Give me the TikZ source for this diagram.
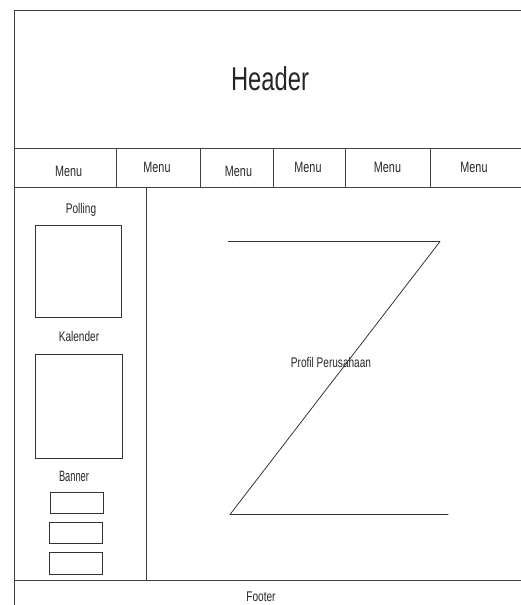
\documentclass[tikz,border=0pt]{standalone}
\usepackage{fontspec}
\setmainfont{Liberation Sans}[FakeStretch=0.72]
\newfontfamily\narrowfont{Liberation Sans}[FakeStretch=0.62]
\begin{document}
\begin{tikzpicture}[x=1pt,y=-1pt,
  frame/.style={draw=black!75, line width=0.9pt},
  lbl/.style={inner sep=0pt, anchor=base, text=black!85, font=\fontsize{14}{14}\selectfont},
  menulbl/.style={lbl, font=\fontsize{15}{15}\selectfont},
  box/.style={draw=black!80, line width=0.9pt, inner sep=0pt},
]
\useasboundingbox (0,0) rectangle (521,605);
% frame
\coordinate (tl) at (14.5,10);
\coordinate (tr) at (521,10);
\coordinate (bl) at (14.5,605);
\coordinate (hl) at (14.5,148);
\coordinate (hr) at (521,148);
\coordinate (ml) at (14.5,187);
\coordinate (mr) at (521,187);
\coordinate (fl) at (14.5,580.5);
\coordinate (fr) at (521,580.5);
\coordinate (st) at (146.5,187);
\coordinate (sb) at (146.5,580.5);
\draw[frame] (tr) -- (tl) -- (bl);
\draw[frame] (hl) -- (hr);
\draw[frame] (ml) -- (mr);
\draw[frame] (fl) -- (fr);
\draw[frame] (st) -- (sb);
\foreach \x/\n in {116/a,200.5/b,273.5/c,345.5/d,430.5/e}{
  \coordinate (d\n t) at (\x,148);
  \coordinate (d\n b) at (\x,187);
  \draw[frame] (d\n t) -- (d\n b);
}
% header
\node[lbl, font=\fontsize{33}{33}\selectfont] (header) at (270,90) {Header};
% menus
\node[menulbl] (m1) at (68.7,176) {Menu};
\node[menulbl] (m2) at (157,172) {Menu};
\node[menulbl] (m3) at (238.5,176) {Menu};
\node[menulbl] (m4) at (308,172.5) {Menu};
\node[menulbl] (m5) at (387.5,172.5) {Menu};
\node[menulbl] (m6) at (474,172.5) {Menu};
% sidebar
\node[lbl] (polling) at (81,213) {Polling};
\node[box, minimum width=86.3pt, minimum height=92.7pt] (pollbox) at (78.15,271.35) {};
\node[lbl] (kalender) at (79,341.5) {Kalender};
\node[box, minimum width=87pt, minimum height=104pt] (kalbox) at (78.8,406) {};
\node[lbl, font=\narrowfont\fontsize{15}{15}\selectfont] (banner) at (74,481.5) {Banner};
\node[box, minimum width=52.7pt, minimum height=21.4pt] (ban1) at (76.65,503) {};
\node[box, minimum width=53pt, minimum height=21pt] (ban2) at (75.8,533.2) {};
\node[box, minimum width=53pt, minimum height=21.6pt] (ban3) at (75.8,563.5) {};
% content
\coordinate (z1) at (228,241.5);
\coordinate (z2) at (440,241.5);
\coordinate (z3) at (230,514.5);
\coordinate (z4) at (448.3,514.5);
\draw[draw=black!80, line width=0.8pt, line join=round] (z1) -- (z2) -- (z3) -- (z4);
\node[lbl] (profil) at (331,367.3) {Profil Perusahaan};
% footer
\node[lbl] (footer) at (261,601) {Footer};
\end{tikzpicture}
\end{document}
